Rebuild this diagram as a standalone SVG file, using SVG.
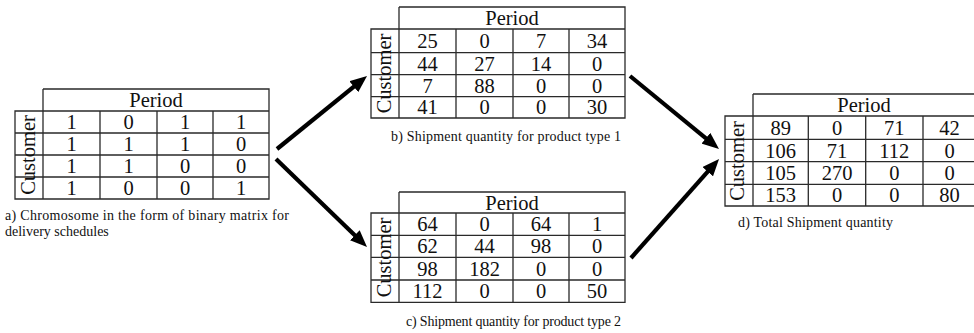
<svg xmlns="http://www.w3.org/2000/svg" width="974" height="333" viewBox="0 0 974 333">
<style>
.bg{fill:#ffffff}
.grid{fill:none;stroke:#2a2a2a;stroke-width:1.3}
.cell{font-family:"Liberation Serif","Times New Roman",serif;font-size:20.5px;fill:#111;text-anchor:middle}
.cap{font-family:"Liberation Serif","Times New Roman",serif;font-size:14px;fill:#111}
.arrow{stroke:#000;stroke-width:4.2;fill:none}
</style>
<defs>
<marker id="ah" markerUnits="userSpaceOnUse" markerWidth="18" markerHeight="14" refX="10" refY="7" orient="auto">
<path d="M0,0 L17,7 L0,14 z" fill="#000"/>
</marker>
</defs>
<rect class="bg" x="0" y="0" width="974" height="333"/>

<g id="tableA">
<path class="grid" d="M43,89 H269 V199 H15 V111 H269 M43,89 V199 M100,111 V199 M157,111 V199 M213,111 V199 M15,133 H269 M15,155 H269 M15,177 H269"/>
<text class="cell" x="156" y="107">Period</text>
<text class="cell" transform="translate(35,155) rotate(-90)">Customer</text>
<text class="cell" x="71.5" y="129">1</text><text class="cell" x="128.5" y="129">0</text><text class="cell" x="185" y="129">1</text><text class="cell" x="241" y="129">1</text>
<text class="cell" x="71.5" y="151">1</text><text class="cell" x="128.5" y="151">1</text><text class="cell" x="185" y="151">1</text><text class="cell" x="241" y="151">0</text>
<text class="cell" x="71.5" y="173">1</text><text class="cell" x="128.5" y="173">1</text><text class="cell" x="185" y="173">0</text><text class="cell" x="241" y="173">0</text>
<text class="cell" x="71.5" y="195">1</text><text class="cell" x="128.5" y="195">0</text><text class="cell" x="185" y="195">0</text><text class="cell" x="241" y="195">1</text>
<text class="cap" x="5" y="220" textLength="284" lengthAdjust="spacing">a) Chromosome in the form of binary matrix for</text>
<text class="cap" x="5" y="236">delivery schedules</text>
</g>

<g id="tableB">
<path class="grid" d="M399,7 H625 V118 H371 V29 H625 M399,7 V118 M456,29 V118 M513,29 V118 M569,29 V118 M371,52.7 H625 M371,74.7 H625 M371,96.7 H625"/>
<text class="cell" x="512" y="25">Period</text>
<text class="cell" transform="translate(391,73.5) rotate(-90)">Customer</text>
<text class="cell" x="427.5" y="48">25</text><text class="cell" x="484.5" y="48">0</text><text class="cell" x="541" y="48">7</text><text class="cell" x="597" y="48">34</text>
<text class="cell" x="427.5" y="70.7">44</text><text class="cell" x="484.5" y="70.7">27</text><text class="cell" x="541" y="70.7">14</text><text class="cell" x="597" y="70.7">0</text>
<text class="cell" x="427.5" y="92.7">7</text><text class="cell" x="484.5" y="92.7">88</text><text class="cell" x="541" y="92.7">0</text><text class="cell" x="597" y="92.7">0</text>
<text class="cell" x="427.5" y="114.4">41</text><text class="cell" x="484.5" y="114.4">0</text><text class="cell" x="541" y="114.4">0</text><text class="cell" x="597" y="114.4">30</text>
<text class="cap" x="391" y="141" textLength="230" lengthAdjust="spacing">b) Shipment quantity for product type 1</text>
</g>

<g id="tableC">
<path class="grid" d="M399,192 H625 V302.3 H371 V213 H625 M399,192 V302.3 M456,213 V302.3 M513,213 V302.3 M569,213 V302.3 M371,235.3 H625 M371,257.3 H625 M371,280 H625"/>
<text class="cell" x="512" y="209.5">Period</text>
<text class="cell" transform="translate(391,257.5) rotate(-90)">Customer</text>
<text class="cell" x="427.5" y="231">64</text><text class="cell" x="484.5" y="231">0</text><text class="cell" x="541" y="231">64</text><text class="cell" x="597" y="231">1</text>
<text class="cell" x="427.5" y="253.3">62</text><text class="cell" x="484.5" y="253.3">44</text><text class="cell" x="541" y="253.3">98</text><text class="cell" x="597" y="253.3">0</text>
<text class="cell" x="427.5" y="275.7">98</text><text class="cell" x="484.5" y="275.7">182</text><text class="cell" x="541" y="275.7">0</text><text class="cell" x="597" y="275.7">0</text>
<text class="cell" x="427.5" y="298">112</text><text class="cell" x="484.5" y="298">0</text><text class="cell" x="541" y="298">0</text><text class="cell" x="597" y="298">50</text>
<text class="cap" x="406" y="326" textLength="215" lengthAdjust="spacing">c) Shipment quantity for product type 2</text>
</g>

<g id="tableD">
<path class="grid" d="M753,94 H976 V206 H725 V116 H976 M753,94 V206 M808.3,116 V206 M865.7,116 V206 M923,116 V206 M725,139.3 H976 M725,161.7 H976 M725,184.3 H976"/>
<text class="cell" x="864" y="112">Period</text>
<text class="cell" transform="translate(744,161) rotate(-90)">Customer</text>
<text class="cell" x="780.7" y="134.7">89</text><text class="cell" x="837" y="134.7">0</text><text class="cell" x="894.3" y="134.7">71</text><text class="cell" x="949.5" y="134.7">42</text>
<text class="cell" x="780.7" y="157.5">106</text><text class="cell" x="837" y="157.5">71</text><text class="cell" x="894.3" y="157.5">112</text><text class="cell" x="949.5" y="157.5">0</text>
<text class="cell" x="780.7" y="180">105</text><text class="cell" x="837" y="180">270</text><text class="cell" x="894.3" y="180">0</text><text class="cell" x="949.5" y="180">0</text>
<text class="cell" x="780.7" y="202">153</text><text class="cell" x="837" y="202">0</text><text class="cell" x="894.3" y="202">0</text><text class="cell" x="949.5" y="202">80</text>
<text class="cap" x="738" y="227" textLength="155" lengthAdjust="spacing">d) Total Shipment quantity</text>
</g>

<g id="connectors">
<line class="arrow" x1="277" y1="149" x2="361.6" y2="80.4" marker-end="url(#ah)"/>
<line class="arrow" x1="276" y1="159" x2="362" y2="242.2" marker-end="url(#ah)"/>
<line class="arrow" x1="630" y1="76" x2="713.6" y2="144.6" marker-end="url(#ah)"/>
<line class="arrow" x1="631" y1="258" x2="714.4" y2="164.2" marker-end="url(#ah)"/>
</g>
</svg>
